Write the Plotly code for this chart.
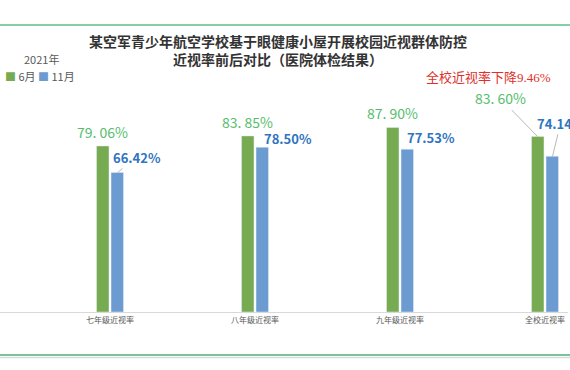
import plotly.graph_objects as go

categories = ["七年级近视率", "八年级近视率", "九年级近视率", "全校近视率"]
june_values = [79.06, 83.85, 87.90, 83.60]
nov_values = [66.42, 78.50, 77.53, 74.14]
june_labels = ["79. 06%", "83. 85%", "87. 90%", "83. 60%"]
nov_labels = ["66.42%", "78.50%", "77.53%", "74.14%"]
series_names = ["6月", "11月"]
title_lines = ["某空军青少年航空学校基于眼健康小屋开展校园近视群体防控", "近视率前后对比（医院体检结果）"]
year_text = "2021年"
note_text = "全校近视率下降9.46%"

GREEN = "#77ab52"
BLUE = "#6b9bd1"
GREEN_TXT = "#56bd6c"
BLUE_TXT = "#2f74c0"
FONT = "Noto Sans CJK SC"
LEADER = "#a6a6a6"
NOLINE = "rgba(0,0,0,0)"

fig = go.Figure()
fig.add_bar(x=categories, y=june_values, name=series_names[0], marker_color=GREEN)
fig.add_bar(x=categories, y=nov_values, name=series_names[1], marker_color=BLUE)

off = 0.052  # bar centre offset in category units
anns = []
# label placement relative to bar top: (dx px, dy px, leader line?)
june_place = [(0, -14, False), (0, -14, False), (0, -14, False), (-37, -38, True)]
nov_place = [(19, -15, True), (25, -9, False), (23, -12, False), (8, -33, True)]
for i, (v, t) in enumerate(zip(june_values, june_labels)):
    dx, dy, arr = june_place[i]
    anns.append(dict(x=i - off, y=v, text=t, showarrow=True, ax=dx, ay=dy,
                     xanchor="center", yanchor="middle",
                     arrowhead=0, arrowwidth=0.8, arrowcolor=LEADER if arr else NOLINE,
                     font=dict(family=FONT, size=14, color=GREEN_TXT)))
for i, (v, t) in enumerate(zip(nov_values, nov_labels)):
    dx, dy, arr = nov_place[i]
    anns.append(dict(x=i + off, y=v, text="<b>" + t + "</b>", showarrow=True, ax=dx, ay=dy,
                     xanchor="center", yanchor="middle",
                     arrowhead=0, arrowwidth=0.8, arrowcolor=LEADER if arr else NOLINE,
                     font=dict(family=FONT, size=13, color=BLUE_TXT)))


def py(pix):
    return 1 + (102 - pix) / 210


def px(pix):
    return pix / 568


anns.append(dict(xref="paper", yref="paper", x=px(278), y=py(50), xanchor="center", yanchor="middle",
                 align="center",
                 text="<b>" + title_lines[0] + "</b><br><b>" + title_lines[1] + "</b>",
                 showarrow=False, font=dict(family=FONT, size=14, color="#333333")))
anns.append(dict(xref="paper", yref="paper", x=px(22), y=py(59), xanchor="left", yanchor="middle",
                 text=year_text,
                 showarrow=False, font=dict(family=FONT, size=11, color="#595959")))
legend_text = (f'<span style="color:{GREEN}">■</span> {series_names[0]} '
               f'<span style="color:{BLUE}">■</span> {series_names[1]}')
anns.append(dict(xref="paper", yref="paper", x=px(3), y=py(76), xanchor="left", yanchor="middle",
                 text=legend_text,
                 showarrow=False, font=dict(family=FONT, size=11, color="#595959")))
anns.append(dict(xref="paper", yref="paper", x=px(488), y=py(77), xanchor="center", yanchor="middle",
                 text=note_text,
                 showarrow=False, font=dict(family="Liberation Serif, Noto Sans CJK SC", size=13, color="#e0302b")))

shapes = [
    dict(type="line", xref="paper", yref="paper", x0=-0.01, x1=1.01, y0=py(25), y1=py(25),
         line=dict(color="#86cfa6", width=2)),
    dict(type="line", xref="paper", yref="paper", x0=-0.01, x1=1.01, y0=py(355), y1=py(355),
         line=dict(color="#7cc29b", width=2)),
    dict(type="line", xref="paper", yref="paper", x0=-0.01, x1=1.01, y0=py(357.5), y1=py(357.5),
         line=dict(color="#d6dcd8", width=1.5)),
]

fig.update_layout(
    width=570, height=370,
    margin=dict(l=0, r=2, t=102, b=58),
    paper_bgcolor="white", plot_bgcolor="white",
    barmode="group", bargap=0.8, bargroupgap=0.14,
    showlegend=False,
    annotations=anns, shapes=shapes,
    xaxis=dict(type="category", range=[-110 / 145, (568 - 110) / 145], showline=True, linecolor="#d9d9d9",
               linewidth=1, ticks="", showgrid=False,
               tickfont=dict(family=FONT, size=8, color="#595959")),
    yaxis=dict(range=[0, 100], visible=False, showgrid=False, zeroline=False),
)

fig.write_html("out.html", config={"displayModeBar": False},
               post_script="document.body.style.margin='0';document.body.style.overflow='hidden';")
